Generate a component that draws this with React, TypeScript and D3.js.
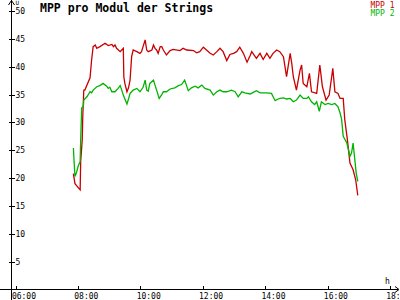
import React from "react";
import * as d3 from "d3";

const title = "MPP pro Modul der Strings";
const seriesNames = ["MPP 1", "MPP 2"];
const seriesColors = ["#c80000", "#00b400"];
const xTickLabels = ["06:00", "08:00", "10:00", "12:00", "14:00", "16:00", "18:00"];
const yTicks = [5, 10, 15, 20, 25, 30, 35, 40, 45, 50];

const mpp1Times = [
  "07:51","07:54","08:04","08:05","08:08","08:09","08:11","08:13","08:23","08:26",
  "08:29","08:33","08:36","08:42","08:52","08:58","09:05","09:08","09:11","09:14",
  "09:21","09:24","09:27","09:28","09:30","09:34","09:37","09:40","09:43","09:46",
  "09:53","09:59","10:02","10:05","10:09","10:12","10:15","10:22","10:25","10:28",
  "10:31","10:34","10:38","10:41","10:44","10:50","10:57","11:03","11:16","11:22",
  "11:29","11:42","11:48","11:54","12:01","12:07","12:14","12:20","12:27","12:33",
  "12:39","12:46","12:52","12:59","13:05","13:11","13:18","13:25","13:31","13:34",
  "13:43","13:50","13:56","14:03","14:09","14:15","14:22","14:28","14:35","14:38",
  "14:41","14:44","14:48","14:51","14:54","15:00","15:07","15:10","15:13","15:20",
  "15:25","15:29","15:39","15:45","15:50","15:57","16:03","16:10","16:14","16:20",
  "16:24","16:30","16:33","16:38","16:43","16:49","16:54","16:58"
];
const mpp1Values = [
  20.8,19.0,17.9,23.0,26.9,31.0,35.8,35.8,38.0,41.2,
  43.6,43.9,43.3,43.6,44.2,43.8,44.0,43.6,43.9,43.3,
  42.7,43.0,43.3,38.2,37.0,35.5,36.2,37.6,41.8,43.0,
  42.7,42.4,42.7,43.6,44.8,43.0,42.7,43.0,43.9,43.3,
  43.0,42.4,43.6,43.6,43.0,42.1,42.9,43.1,42.9,43.3,
  43.0,42.9,42.5,42.7,43.5,43.0,42.4,42.1,42.7,43.3,
  42.7,41.1,42.2,42.4,42.7,43.5,42.4,40.8,42.0,42.7,
  41.5,42.4,41.3,42.4,41.5,42.4,43.0,42.7,41.8,40.0,
  38.2,40.0,42.4,40.6,38.2,35.8,39.4,40.3,37.0,36.4,
  38.8,35.5,35.2,40.3,36.4,34.0,34.9,39.7,35.5,35.2,
  34.3,34.3,30.5,26.9,22.7,21.5,19.7,16.9
];

const mpp2Times = [
  "07:51","07:52","07:54","07:57","08:00","08:04","08:05","08:07","08:10","08:11",
  "08:17","08:23","08:26","08:29","08:36","08:42","08:48","08:55","08:58","09:01",
  "09:05","09:11","09:17","09:21","09:24","09:27","09:34","09:37","09:40","09:46",
  "09:53","09:59","10:05","10:09","10:12","10:15","10:18","10:25","10:31","10:36",
  "10:41","10:44","10:50","10:57","11:06","11:13","11:19","11:25","11:32","11:38",
  "11:45","11:51","11:58","12:04","12:14","12:20","12:27","12:33","12:39","12:46",
  "12:55","13:02","13:08","13:15","13:21","13:31","13:37","13:43","13:50","14:03",
  "14:12","14:19","14:25","14:28","14:35","14:41","14:48","14:54","15:00","15:07",
  "15:13","15:20","15:23","15:29","15:35","15:39","15:44","15:48","15:55","16:01",
  "16:08","16:14","16:20","16:24","16:27","16:30","16:37","16:40","16:43","16:46",
  "16:49","16:53","16:55","16:58"
];
const mpp2Values = [
  25.4,23.5,20.3,21.0,22.1,23.0,26.9,32.6,32.8,34.0,
  34.6,35.5,35.3,35.8,36.4,36.6,37.0,36.5,36.1,36.3,
  35.5,35.5,36.1,36.6,35.8,34.9,33.3,34.2,35.2,35.8,
  36.1,35.5,36.3,37.6,35.8,35.6,37.0,37.6,35.8,34.3,
  35.0,35.5,35.5,36.0,36.2,36.6,36.8,37.6,35.7,36.2,
  36.5,36.2,36.7,36.1,35.8,34.9,35.5,35.8,35.5,35.5,
  35.8,35.5,34.6,35.5,35.3,35.1,35.4,35.7,35.3,35.3,
  35.2,33.9,34.2,34.3,34.4,34.2,34.3,33.7,34.0,34.9,
  34.3,34.3,34.6,33.7,33.2,33.7,32.0,33.7,33.2,33.4,
  33.2,33.4,32.8,31.7,30.5,27.5,26.3,25.1,23.9,24.5,
  26.3,22.7,20.9,19.4
];

const toHours = (s: string) => {
  const [h, m] = s.split(":").map(Number);
  return h + m / 60;
};

export default function App() {
  const W = 400, H = 300;
  const x = d3.scaleLinear().domain([6, 18]).range([15.7, 390]);
  const y = d3.scaleLinear().domain([0, 50]).range([289.5, 11]);
  const axisX = 11.5;
  const axisY = 289.5;
  const font = "'DejaVu Sans Mono', monospace";

  const series = [
    mpp1Times.map((t, i) => [toHours(t), mpp1Values[i]] as [number, number]),
    mpp2Times.map((t, i) => [toHours(t), mpp2Values[i]] as [number, number]),
  ];
  const line = d3
    .line<[number, number]>()
    .x((d) => x(d[0]))
    .y((d) => y(d[1]));

  return (
    <svg
      width={W}
      height={H}
      style={{ position: "absolute", left: 0, top: 0, background: "#fff" }}
      fontFamily={font}
    >
      <rect x={0} y={0} width={W} height={H} fill="#fff" />
      {/* axes */}
      <g stroke="#000" strokeWidth={1} shapeRendering="crispEdges" fill="none">
        <line x1={axisX} y1={0} x2={axisX} y2={H} />
        <line x1={0} y1={axisY} x2={398} y2={axisY} />
        {yTicks.map((v) => (
          <line key={v} x1={8.5} x2={14.5} y1={Math.round(y(v)) + 0.5} y2={Math.round(y(v)) + 0.5} />
        ))}
        {xTickLabels.map((l) => (
          <line key={l} x1={Math.round(x(toHours(l))) + 0.5} x2={Math.round(x(toHours(l))) + 0.5} y1={286} y2={290} />
        ))}
      </g>
      <g stroke="#000" strokeWidth={1} fill="none">
        <polyline points={`${axisX - 3},5 ${axisX},0.5 ${axisX + 3},5`} />
        <polyline points={`395,${axisY - 3} 399,${axisY} 395,${axisY + 3}`} />
      </g>
      {/* y labels */}
      {yTicks.map((v) => (
        <text key={v} x={15.5} y={y(v) + 3} fontSize={8} fill="#000">
          {v}
        </text>
      ))}
      {/* x labels */}
      {xTickLabels.map((l) => (
        <text key={l} x={x(toHours(l)) - 3.8} y={299} fontSize={8} fill="#000">
          {l}
        </text>
      ))}
      <text x={15.5} y={4.5} fontSize={6} fill="#000">U</text>
      <text x={385} y={284} fontSize={8} fill="#000">h</text>
      {/* title */}
      <text x={40} y={11.5} fontSize={11.5} fontWeight="bold" fill="#000">
        {title}
      </text>
      {/* legend */}
      {seriesNames.map((n, i) => (
        <text key={n} x={394.5} y={7.5 + i * 8} fontSize={8} textAnchor="end" fill={seriesColors[i]}>
          {n}
        </text>
      ))}
      {/* lines */}
      {series.map((s, i) => (
        <path key={i} d={line(s) || ""} fill="none" stroke={seriesColors[i]} strokeWidth={1.3} />
      ))}
    </svg>
  );
}
